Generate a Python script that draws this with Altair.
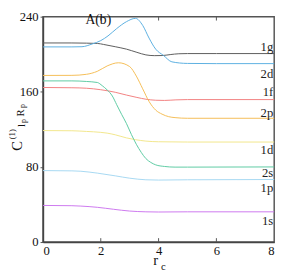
import altair as alt
import pandas as pd

# ---- data ----
x_1g = [0, 1.0, 1.5, 1.88, 2.1, 2.5, 2.89, 3.25, 3.56, 3.85, 4.12, 4.4, 4.7, 5.0, 6.0, 8.0]
y_1g = [212, 212, 211.8, 211.5, 210.4, 208.0, 205.4, 202.0, 199.3, 198.5, 198.6, 199.6, 200.5, 200.7, 200.7, 200.7]

x_2d = [0, 1.0, 1.35, 1.71, 2.0, 2.25, 2.55, 2.89, 3.2, 3.45, 3.67, 3.9, 4.17, 4.46, 5.0, 6.0, 8.0]
y_2d = [207.8, 207.8, 208.0, 211.0, 214.5, 219.5, 227.3, 234.7, 238.2, 230.7, 217.2, 205.4, 198.7, 191.9, 190.2, 190.0, 190.0]

x_1f = [0, 1.0, 1.5, 2.0, 2.5, 2.89, 3.25, 3.56, 3.9, 4.2, 4.6, 5.0, 8.0]
y_1f = [164.6, 164.3, 163.8, 162.2, 159.5, 156.5, 154.0, 152.1, 151.0, 150.8, 151.4, 151.7, 151.7]

x_2p = [0, 1.0, 1.5, 1.88, 2.22, 2.61, 3.0, 3.23, 3.45, 3.67, 3.9, 4.12, 4.35, 4.57, 5.0, 8.0]
y_2p = [177.4, 177.5, 178.6, 181.8, 187.5, 190.9, 186.8, 176.7, 163.2, 149.7, 140.5, 136.2, 133.5, 132.5, 131.8, 131.8]

x_1d = [0, 1.0, 1.5, 2.0, 2.22, 2.5, 2.89, 3.2, 3.56, 4.0, 5.0, 8.0]
y_1d = [118.7, 118.5, 117.8, 116.8, 116.0, 114.2, 110.9, 109.0, 107.5, 106.8, 106.5, 106.5]

x_2s = [0, 1.0, 1.5, 1.88, 2.05, 2.22, 2.4, 2.55, 2.72, 2.89, 3.06, 3.23, 3.4, 3.56, 3.73, 3.9, 4.2, 4.57, 5.0, 8.0]
y_2s = [171.6, 171.6, 171.0, 169.9, 166.5, 162.0, 155.5, 146.3, 136.0, 126.1, 114.5, 104.1, 95.5, 88.9, 84.8, 82.2, 80.5, 79.8, 79.8, 80.0]

x_1p = [0, 1.0, 1.31, 1.88, 2.5, 3.0, 3.56, 4.0, 5.0, 8.0]
y_1p = [76.1, 75.8, 75.4, 73.4, 70.5, 68.0, 66.3, 66.0, 66.3, 66.6]

x_1s = [0, 1.0, 1.31, 1.88, 2.44, 3.0, 3.56, 4.0, 5.0, 8.0]
y_1s = [39.0, 38.7, 38.3, 37.0, 34.9, 33.0, 32.2, 32.0, 32.2, 32.2]

series_names = ["1g", "2d", "1f", "2p", "1d", "2s", "1p", "1s"]
series_x = [x_1g, x_2d, x_1f, x_2p, x_1d, x_2s, x_1p, x_1s]
series_y = [y_1g, y_2d, y_1f, y_2p, y_1d, y_2s, y_1p, y_1s]
label_y = [207.1, 179.0, 159.2, 137.7, 97.7, 73.7, 57.2, 22.1]

colors = ["#5a5a5a", "#5aaee0", "#f27f7f", "#f5bd55", "#f2e68a", "#5ccaa2", "#a5d8f2", "#cc77ee"]

x_ticks = [0, 2, 4, 6, 8]
y_ticks = [0, 80, 160, 240]

rows = []
for name, xs, ys in zip(series_names, series_x, series_y):
    for xv, yv in zip(xs, ys):
        rows.append({"name": name, "x": xv, "y": yv})
df = pd.DataFrame(rows)

lab_df = pd.DataFrame({"name": series_names, "y": label_y})

W, H = 238, 232
FONT = "Liberation Serif"

xscale = alt.Scale(domain=[0, 8], nice=False)
yscale = alt.Scale(domain=[0, 240], nice=False)

lines = alt.Chart(df).mark_line(strokeWidth=1, interpolate="monotone").encode(
    x=alt.X("x:Q", scale=xscale,
            axis=alt.Axis(values=x_ticks, title=None, grid=False, tickSize=0,
                          labelPadding=3, format="d")),
    y=alt.Y("y:Q", scale=yscale,
            axis=alt.Axis(values=y_ticks, title=None, grid=False, tickSize=3,
                          labelPadding=2, format="d")),
    color=alt.Color("name:N",
                    scale=alt.Scale(domain=series_names, range=colors),
                    legend=None),
    detail="name:N",
)

labels = alt.Chart(lab_df).mark_text(
    align="right", baseline="middle", font=FONT, fontSize=13, color="#222"
).encode(
    x=alt.value(W - 1),
    y=alt.Y("y:Q", scale=yscale),
    text="name:N",
)

tick_df = pd.DataFrame({"t": x_ticks[1:-1]})
ticks_bottom = alt.Chart(tick_df).mark_rule(color="#555", strokeWidth=1).encode(
    x=alt.X("t:Q", scale=xscale), y=alt.value(H), y2=alt.value(H - 4))
ticks_top = alt.Chart(tick_df).mark_rule(color="#555", strokeWidth=1).encode(
    x=alt.X("t:Q", scale=xscale), y=alt.value(0), y2=alt.value(4))

def txt(s, x, y, size, angle=0):
    return alt.Chart(pd.DataFrame({"s": [s]})).mark_text(
        font=FONT, fontSize=size, color="#111", align="center", baseline="middle", angle=angle
    ).encode(x=alt.value(x), y=alt.value(y), text="s:N")

annos = [
    txt("A(b)", 57, 4, 14),
    txt("r", 116, 250.5, 15),
    txt("c", 124, 258, 11),
    txt("C", -27, 133, 15, 270),
    txt("(1)", -31.5, 121, 9, 270),
    txt("l", -22, 112, 11, 270),
    txt("p", -19.5, 107.5, 8, 270),
    txt("R", -22.5, 99, 11, 270),
    txt("p", -20, 92, 8, 270),
]

chart = alt.layer(lines, labels, ticks_bottom, ticks_top, *annos).properties(
    width=W, height=H,
    autosize=alt.AutoSizeParams(type="none"),
    padding={"left": 36, "top": 5, "right": 7, "bottom": 30},
).configure_view(
    stroke="#555", strokeWidth=1.5
).configure_axis(
    labelFont=FONT, labelFontSize=13, labelColor="#111",
    domainColor="#444", domainWidth=1.5, tickColor="#555"
)

chart.save("out.html", embed_options={"renderer": "svg", "actions": False})
